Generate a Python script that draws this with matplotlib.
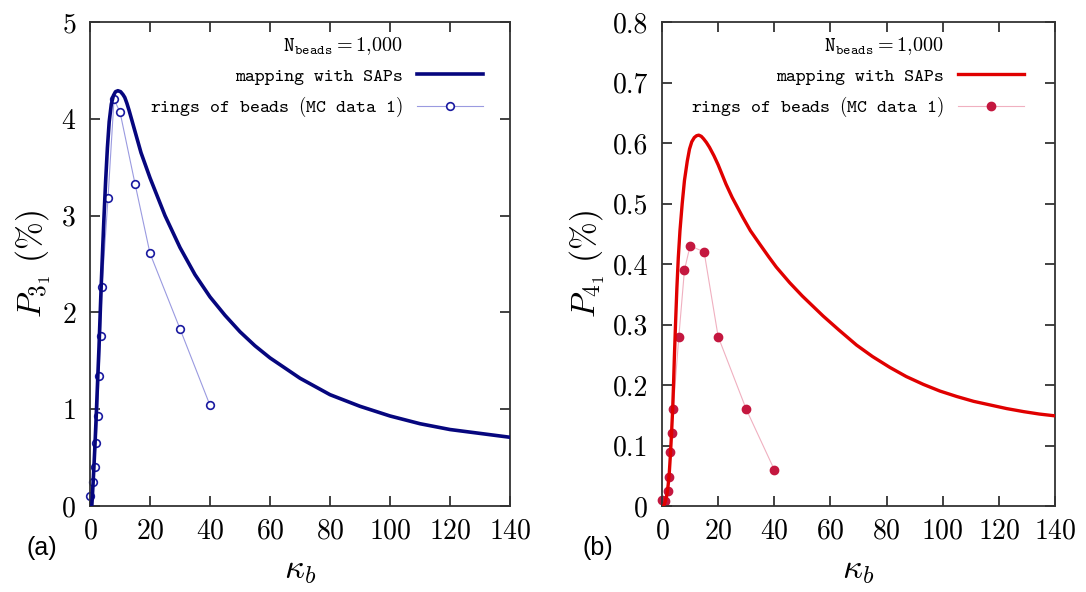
import matplotlib
matplotlib.use('Agg')
import matplotlib.pyplot as plt
from matplotlib.lines import Line2D

plt.rcParams['font.family'] = 'serif'
plt.rcParams['font.serif'] = ['cmr10']
plt.rcParams['mathtext.fontset'] = 'cm'
plt.rcParams['axes.formatter.use_mathtext'] = True

# (a) trefoil 3_1 : SAP mapping curve and MC points
k_sap_a = [0.6, 1.0, 1.3, 1.7, 2.1, 2.5, 3.0, 3.4, 3.8, 4.2, 4.7, 5.2, 5.8, 6.4, 7.1, 7.8,
           8.5, 9.3, 10.2, 11.0, 11.6, 12.3, 13.0, 14.0, 15.0, 17.0, 20.0, 25.0, 30.0, 35.0,
           40.0, 45.0, 50.0, 55.0, 60.0, 70.0, 80.0, 90.0, 100.0, 110.0, 120.0, 130.0, 140.0]
p_sap_a = [0.0, 0.22, 0.40, 0.66, 0.95, 1.26, 1.64, 1.99, 2.33, 2.64, 3.01, 3.35, 3.70, 3.97,
           4.15, 4.24, 4.28, 4.29, 4.28, 4.25, 4.22, 4.16, 4.09, 3.98, 3.87, 3.65, 3.39, 3.00,
           2.67, 2.39, 2.16, 1.97, 1.80, 1.655, 1.53, 1.32, 1.15, 1.03, 0.93, 0.85, 0.79, 0.75,
           0.71]
k_mc_a = [0, 1, 1.5, 2, 2.5, 3, 3.5, 4, 6, 8, 10, 15, 20, 30, 40]
p_mc_a = [0.10, 0.245, 0.40, 0.65, 0.93, 1.34, 1.76, 2.26, 3.18, 4.20, 4.07, 3.33, 2.61, 1.83, 1.04]

# (b) figure-eight 4_1
k_sap_b = [0.6, 1.2, 1.8, 2.2, 2.6, 3.0, 3.4, 3.8, 4.1, 4.4, 4.85, 5.3, 5.8, 6.4, 7.2, 8.0,
           9.0, 9.8, 10.6, 11.5, 12.3, 13.1, 14.0, 14.8, 15.8, 16.9, 18.5, 20.0, 22.8, 25.0,
           28.8, 31.5, 34.8, 38.0, 40.7, 45.5, 50.0, 57.4, 63.0, 69.3, 75.0, 81.2, 87.0, 93.1,
           99.0, 105.0, 111.0, 116.9, 122.8, 128.8, 134.4, 140.0]
p_sap_b = [0.0, 0.008, 0.02, 0.035, 0.055, 0.085, 0.12, 0.16, 0.20, 0.245, 0.305, 0.36, 0.41,
           0.455, 0.50, 0.538, 0.57, 0.59, 0.602, 0.609, 0.612, 0.613, 0.611, 0.607, 0.601,
           0.593, 0.579, 0.564, 0.532, 0.51, 0.477, 0.455, 0.433, 0.412, 0.395, 0.369, 0.347,
           0.314, 0.291, 0.266, 0.247, 0.229, 0.214, 0.201, 0.19, 0.181, 0.173, 0.167, 0.161,
           0.156, 0.152, 0.149]
k_mc_b = [0, 1, 2, 2.5, 3, 3.5, 4, 6, 8, 10, 15, 20, 30, 40]
p_mc_b = [0.010, 0.008, 0.025, 0.048, 0.09, 0.12, 0.16, 0.28, 0.39, 0.43, 0.42, 0.28, 0.16, 0.06]

xticks = [0, 20, 40, 60, 80, 100, 120, 140]
yticks_a = [0, 1, 2, 3, 4, 5]
yticks_b = [0, 0.1, 0.2, 0.3, 0.4, 0.5, 0.6, 0.7, 0.8]
ylabels_b = ['0', '0.1', '0.2', '0.3', '0.4', '0.5', '0.6', '0.7', '0.8']

W, H = 1086, 592
fig = plt.figure(figsize=(W / 100, H / 100), dpi=100)
ax1 = fig.add_axes([90 / W, 86 / H, 420 / W, 484 / H])
ax2 = fig.add_axes([662 / W, 86 / H, 393 / W, 484 / H])

title_lbl = r'$\mathtt{N}_{\mathtt{beads}}{=}1{,}000$'
sap_lbl = 'mapping with SAPs'
mc_lbl = r'rings of beads $($MC data 1$)$'


def style(ax):
    ax.set_xlim(0, 140)
    ax.set_xticks(xticks)
    ax.tick_params(direction='in', length=7, width=1.3, top=True, right=True,
                   labelsize=20, color='#333333')
    ax.tick_params(axis='x', pad=9)
    ax.tick_params(axis='y', pad=10)
    for s in ax.spines.values():
        s.set_linewidth(1.3)
        s.set_color('#333333')
    ax.set_xlabel(r'$\kappa_b$', fontsize=25, labelpad=7)


def legend(ax, x_anchor):
    h = ax.get_legend_handles_labels()
    blank = Line2D([], [], color='none')
    leg = ax.legend([blank] + h[0], [title_lbl] + h[1], loc='upper right',
                    bbox_to_anchor=(x_anchor, 1.0), frameon=False, markerfirst=False,
                    prop={'family': 'cmtt10', 'size': 13.6}, handlelength=3.5,
                    handletextpad=0.75, labelspacing=0.55, numpoints=1, borderaxespad=0.3)
    leg.get_texts()[0].set_fontsize(14.5)
    return leg


# panel (a)
ax1.plot(k_mc_a, p_mc_a, '-o', color='#9a9ae0', lw=0.8, mfc='white', mec='#1a1aa0',
         mew=1.2, ms=5.5, clip_on=False, zorder=2)
ax1.plot(k_sap_a, p_sap_a, color='#06067e', lw=2.6, zorder=3)
ax1.plot([], [], color='#06067e', lw=2.6, label=sap_lbl)
ax1.plot([], [], '-o', color='#9a9ae0', lw=0.8, mfc='white', mec='#1a1aa0', mew=1.2, ms=5.5,
         label=mc_lbl)
style(ax1)
ax1.set_ylim(0, 5)
ax1.set_yticks(yticks_a)
ax1.set_ylabel(r'$P_{3_1}\ (\%)$', fontsize=24, labelpad=6)
legend(ax1, 1 - 14 / 420)

# panel (b)
ax2.plot(k_mc_b, p_mc_b, '-o', color='#f0b0c0', lw=0.8, mfc='#c4173f', mec='#c4173f',
         ms=6, clip_on=False, zorder=2)
ax2.plot(k_sap_b, p_sap_b, color='#e00000', lw=2.4, zorder=3)
ax2.plot([], [], color='#e00000', lw=2.4, label=sap_lbl)
ax2.plot([], [], '-o', color='#f0b0c0', lw=0.8, mfc='#c4173f', mec='#c4173f', ms=6,
         label=mc_lbl)
style(ax2)
ax2.set_ylim(0, 0.8)
ax2.set_yticks(yticks_b)
ax2.set_yticklabels(ylabels_b)
ax2.set_ylabel(r'$P_{4_1}\ (\%)$', fontsize=24, labelpad=4)
legend(ax2, 1 - 18 / 393)

fig.text(42 / W, 1 - 548 / H, '(a)', family='Liberation Sans', fontsize=18,
         ha='center', va='center')
fig.text(598 / W, 1 - 548 / H, '(b)', family='Liberation Sans', fontsize=18,
         ha='center', va='center')

fig.savefig('out.png', dpi=100)
